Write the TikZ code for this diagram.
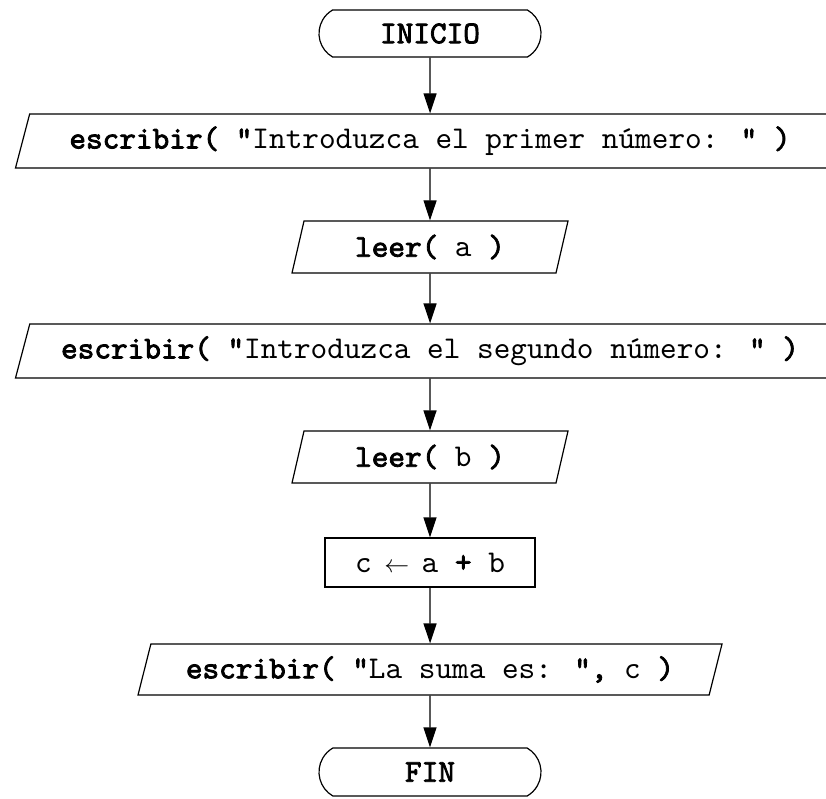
\documentclass[tikz,border=0pt]{standalone}
\usepackage{fontspec}
\newfontfamily\codefont{lmmono10-regular.otf}[BoldFont=lmmono10-regular.otf, BoldFeatures={FakeBold=2.5}]
\usetikzlibrary{shapes.geometric, shapes.misc, arrows.meta}

\tikzset{
  terminal/.style={rounded rectangle, rounded rectangle arc length=120,
    draw, line width=1.2pt, minimum width=222pt, minimum height=47pt, inner sep=0pt},
  iobox/.style={trapezium, trapezium left angle=64, trapezium right angle=116,
    trapezium stretches body, draw, line width=1.2pt, inner sep=0pt},
  procbox/.style={rectangle, draw, line width=1.2pt, inner sep=0pt},
  flow/.style={line width=1.2pt, -{Triangle[length=20pt, width=13pt]}}
}

% assignment arrow, one character wide
\newcommand{\assignArrow}{\makebox[0.525em]{\fontsize{27pt}{27pt}\selectfont$\leftarrow$}}

\begin{document}
\begin{tikzpicture}[x=1pt, y=-1pt, font=\codefont\fontsize{31.7pt}{36pt}\selectfont]

  \useasboundingbox (0,0) rectangle (826,798);

  % column of the flow chart
  \def \xMid {430}

  % Start
  \node[terminal] (inicio) at (\xMid, 33.5) {\textbf{INICIO}};

  % First prompt and read
  \node[iobox, minimum width=829pt, minimum height=54pt] (escribirUno)
    at (\xMid, 141) {\textbf{escribir( "}Introduzca el primer número: \textbf{" )}};
  \node[iobox, minimum width=276pt, minimum height=52pt] (leerA)
    at (\xMid, 247) {\textbf{leer(} a \textbf{)}};

  % Second prompt and read
  \node[iobox, minimum width=829pt, minimum height=54pt] (escribirDos)
    at (\xMid, 351) {\textbf{escribir( "}Introduzca el segundo número: \textbf{" )}};
  \node[iobox, minimum width=276pt, minimum height=52pt] (leerB)
    at (\xMid, 457) {\textbf{leer(} b \textbf{)}};

  % The sum
  \node[procbox, minimum width=210pt, minimum height=49pt] (suma)
    at (\xMid, 562.5) {c \assignArrow{} a \textbf{+} b};

  % Output and end
  \node[iobox, minimum width=584pt, minimum height=51pt] (escribirSuma)
    at (\xMid, 669.5) {\textbf{escribir( "}La suma es: \textbf{",} c \textbf{)}};
  \node[terminal, minimum height=48pt] (fin) at (\xMid, 772) {\textbf{FIN}};

  % LINES
  \draw[flow] (inicio.south) -- (escribirUno.north);
  \draw[flow] (escribirUno.south) -- (leerA.north);
  \draw[flow] (leerA.south) -- (escribirDos.north);
  \draw[flow] (escribirDos.south) -- (leerB.north);
  \draw[flow] (leerB.south) -- (suma.north);
  \draw[flow] (suma.south) -- (escribirSuma.north);
  \draw[flow] (escribirSuma.south) -- (fin.north);

\end{tikzpicture}
\end{document}
